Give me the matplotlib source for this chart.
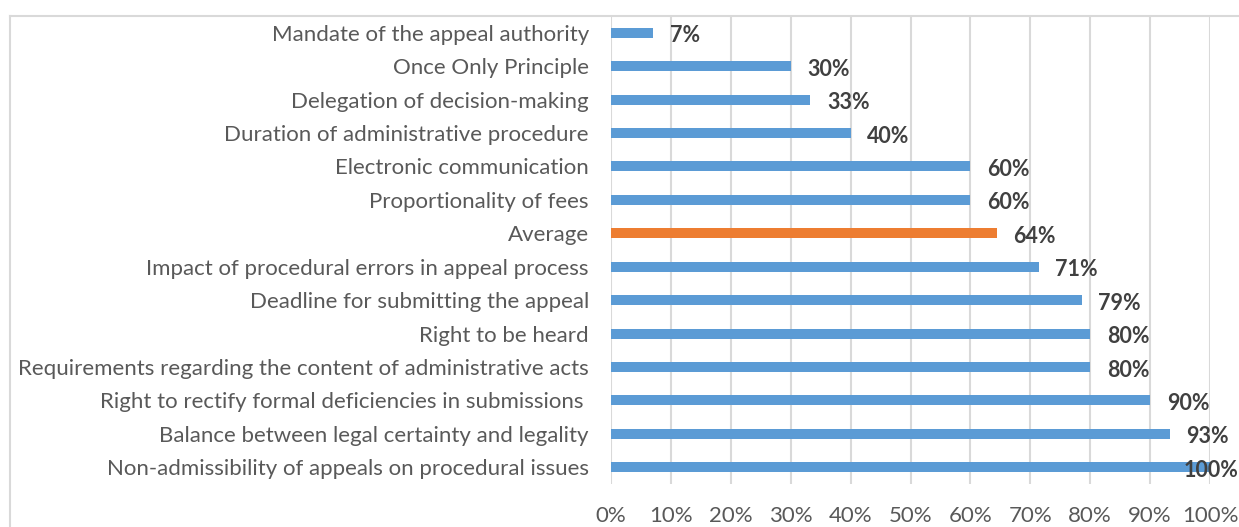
import numpy as np
import matplotlib.pyplot as plt
from matplotlib.lines import Line2D

# categories top -> bottom
categories = ["Mandate of the appeal authority",
              "Once Only Principle",
              "Delegation of decision-making",
              "Duration of administrative procedure",
              "Electronic communication",
              "Proportionality of fees",
              "Average",
              "Impact of procedural errors in appeal process",
              "Deadline for submitting the appeal",
              "Right to be heard",
              "Requirements regarding the content of administrative acts",
              "Right to rectify formal deficiencies in submissions ",
              "Balance between legal certainty and legality",
              "Non-admissibility of appeals on procedural issues"]
values = [7, 30, 33.3, 40, 60, 60, 64.4, 71.4, 78.6, 80, 80, 90, 93.3, 100]
ticks = [0, 10, 20, 30, 40, 50, 60, 70, 80, 90, 100]

blue = '#5B9BD5'
orange = '#ED7D31'
colors = [orange if c == "Average" else blue for c in categories]

plt.rcParams['font.family'] = ['Lato', 'DejaVu Sans']

W, H = 1239, 527
fig = plt.figure(figsize=(W / 100, H / 100), dpi=100)
ax = fig.add_axes([611 / W, 1 - 484 / H, (1210 - 611) / W, (484 - 16) / H])

y = np.arange(len(categories))
ax.barh(y, values, height=0.3, color=colors, zorder=3)
ax.set_ylim(len(categories) - 0.5, -0.5)
ax.set_xlim(0, 100)

ax.set_yticks(y)
ax.set_yticklabels(categories, fontsize=16, color='#595959')
ax.set_xticks(ticks)
ax.set_xticklabels([f"{t}%" for t in ticks], fontsize=16, color='#595959')
ax.tick_params(axis='both', length=0)
ax.tick_params(axis='y', pad=16)
ax.tick_params(axis='x', pad=16)

ax.grid(axis='x', color='#D9D9D9', linewidth=1.5, zorder=0)
for s in ax.spines.values():
    s.set_visible(False)

for yi, v in zip(y, values):
    if v >= 100:
        # no room right of the bar: sits over the bar end, flush with the edge
        ax.annotate(f"{v:.0f}%", (1 - 1 / W, yi), xycoords=('figure fraction', 'data'),
                    xytext=(0, -2.2), textcoords='offset points',
                    ha='right', va='center', fontsize=15.5, fontweight='bold',
                    color='#404040', zorder=4, annotation_clip=False)
    else:
        ax.annotate(f"{v:.0f}%", (v, yi), xytext=(12, -2.2), textcoords='offset points',
                    ha='left', va='center', fontsize=15.5, fontweight='bold',
                    color='#404040', zorder=4, annotation_clip=False)

# outer chart border (cropped on right and bottom)
fig.add_artist(Line2D([10 / W, 1.0], [1 - 16 / H, 1 - 16 / H], color='#D9D9D9', linewidth=1.5))
fig.add_artist(Line2D([10 / W, 10 / W], [0, 1 - 16 / H], color='#D9D9D9', linewidth=1.5))

fig.savefig('out.png', dpi=100)
